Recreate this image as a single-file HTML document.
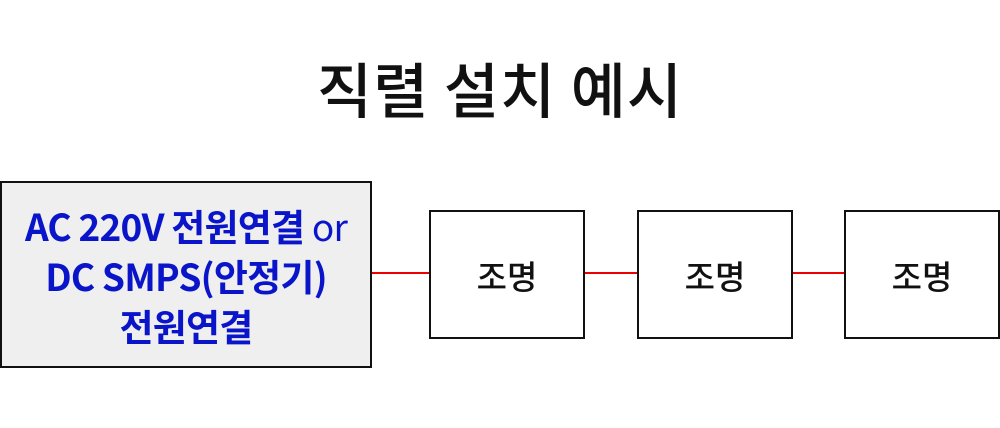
<!DOCTYPE html>
<html><head><meta charset="utf-8"><style>
body{margin:0;width:1000px;height:428px;background:#fff;position:relative;overflow:hidden;font-family:"Noto Sans CJK KR","Liberation Sans",sans-serif}
.t{position:absolute;left:0;width:1000px;top:48px;text-align:center;font-size:60px;font-weight:500;color:#111;line-height:80px;letter-spacing:1px}
.b{position:absolute;border:2px solid #111;box-sizing:border-box;background:#fff;display:flex;align-items:center;justify-content:center;font-size:33px;color:#111;font-weight:500}
.src{left:0;top:181px;width:372px;height:187px;background:#efefef;color:#0a14c8;font-weight:bold;font-size:37px;line-height:50px;text-align:center;flex-direction:column;padding-top:0;letter-spacing:-0.8px}
.l{position:absolute;height:2px;background:#e00;top:272px}
</style></head><body>
<div class="t">직렬 설치 예시</div>
<div class="b src"><div>AC 220V 전원연결 <span style="font-weight:normal">or</span></div><div>DC SMPS(안정기)</div><div>전원연결</div></div>
<div class="l" style="left:372px;width:57px"></div>
<div class="l" style="left:584px;width:53px"></div>
<div class="l" style="left:792px;width:52px"></div>
<div class="b" style="left:429px;top:210px;width:156px;height:129px">조명</div>
<div class="b" style="left:637px;top:210px;width:156px;height:129px">조명</div>
<div class="b" style="left:844px;top:210px;width:156px;height:129px">조명</div>
</body></html>
